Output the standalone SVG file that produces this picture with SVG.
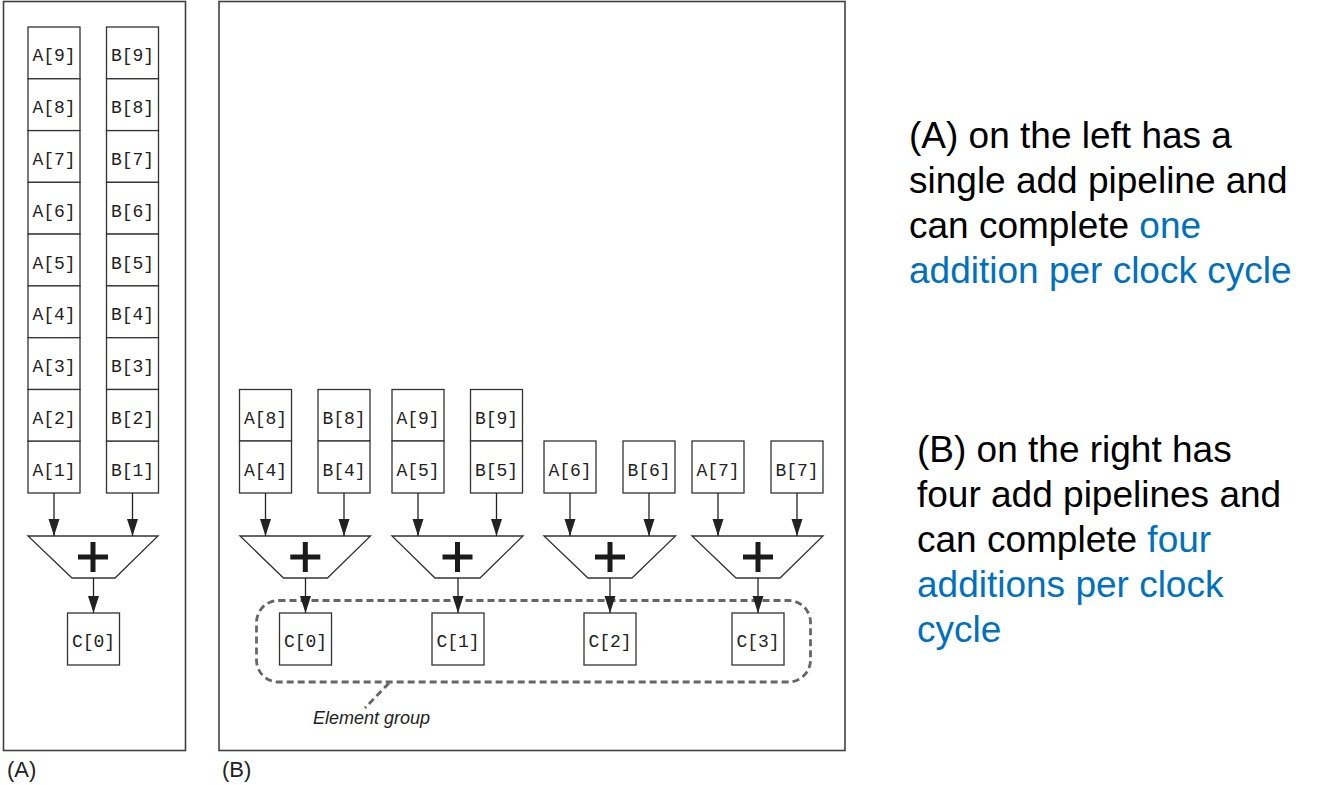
<svg xmlns="http://www.w3.org/2000/svg" width="1323" height="785" viewBox="0 0 1323 785">
<style>
.panel{fill:#fff;stroke:#404040;stroke-width:1.6}
.box{fill:#fff;stroke:#333;stroke-width:1.3}
.lbl{font-family:"Liberation Mono","Courier New",monospace;font-size:18px;fill:#222;text-anchor:middle}
.trap{fill:#fff;stroke:#333;stroke-width:1.3}
.plus{stroke:#1a1a1a;stroke-width:5;fill:none}
.arr{stroke:#222;stroke-width:1.3;fill:none;marker-end:url(#ah)}
.grp{fill:none;stroke:#666;stroke-width:2.8;stroke-dasharray:7 4}
.cap{font-family:"Liberation Sans",Arial,sans-serif;font-size:22px;fill:#222}
.note{font-family:"Liberation Sans",Arial,sans-serif;font-size:37px;fill:#000}
.blue{fill:#0070C0}
</style>
<defs>
<marker id="ah" markerUnits="userSpaceOnUse" markerWidth="17" markerHeight="12" refX="17" refY="6" orient="auto">
<path d="M0,0.5 L17,6 L0,11.5 z" fill="#222"/>
</marker>
<path id="plus" class="plus" d="M-15,0 H15 M0,-15 V15"/>
</defs>
<rect width="1323" height="785" fill="#fff"/>

<g id="panelA">
<rect class="panel" x="3.5" y="1.5" width="182" height="749"/>
<text class="cap" x="7" y="777">(A)</text>
</g>
<g id="panelB">
<rect class="panel" x="219" y="1.5" width="626" height="749"/>
<text class="cap" x="222" y="777">(B)</text>
</g>

<g id="colA">
<rect class="box" x="28" y="27" width="52" height="51.8"/><text class="lbl" x="54" y="61">A[9]</text>
<rect class="box" x="28" y="78.8" width="52" height="51.8"/><text class="lbl" x="54" y="113">A[8]</text>
<rect class="box" x="28" y="130.6" width="52" height="51.8"/><text class="lbl" x="54" y="165">A[7]</text>
<rect class="box" x="28" y="182.3" width="52" height="51.8"/><text class="lbl" x="54" y="216.5">A[6]</text>
<rect class="box" x="28" y="234.1" width="52" height="51.8"/><text class="lbl" x="54" y="268.5">A[5]</text>
<rect class="box" x="28" y="285.9" width="52" height="51.8"/><text class="lbl" x="54" y="320">A[4]</text>
<rect class="box" x="28" y="337.7" width="52" height="51.8"/><text class="lbl" x="54" y="372">A[3]</text>
<rect class="box" x="28" y="389.5" width="52" height="51.8"/><text class="lbl" x="54" y="424">A[2]</text>
<rect class="box" x="28" y="441.2" width="52" height="51.8"/><text class="lbl" x="54" y="475.5">A[1]</text>
</g>
<g id="colB">
<rect class="box" x="106.5" y="27" width="52" height="51.8"/><text class="lbl" x="132.5" y="61">B[9]</text>
<rect class="box" x="106.5" y="78.8" width="52" height="51.8"/><text class="lbl" x="132.5" y="113">B[8]</text>
<rect class="box" x="106.5" y="130.6" width="52" height="51.8"/><text class="lbl" x="132.5" y="165">B[7]</text>
<rect class="box" x="106.5" y="182.3" width="52" height="51.8"/><text class="lbl" x="132.5" y="216.5">B[6]</text>
<rect class="box" x="106.5" y="234.1" width="52" height="51.8"/><text class="lbl" x="132.5" y="268.5">B[5]</text>
<rect class="box" x="106.5" y="285.9" width="52" height="51.8"/><text class="lbl" x="132.5" y="320">B[4]</text>
<rect class="box" x="106.5" y="337.7" width="52" height="51.8"/><text class="lbl" x="132.5" y="372">B[3]</text>
<rect class="box" x="106.5" y="389.5" width="52" height="51.8"/><text class="lbl" x="132.5" y="424">B[2]</text>
<rect class="box" x="106.5" y="441.2" width="52" height="51.8"/><text class="lbl" x="132.5" y="475.5">B[1]</text>
</g>
<g id="adderA">
<polygon class="trap" points="28,536 158,536 115,578 72,578"/>
<use href="#plus" x="93" y="557"/>
</g>
<g id="cA0">
<rect class="box" x="67.5" y="613" width="52" height="52"/><text class="lbl" x="93.5" y="647">C[0]</text>
</g>

<g id="pipe1">
<rect class="box" x="239.5" y="389.5" width="52" height="51.5"/><text class="lbl" x="265.5" y="424">A[8]</text>
<rect class="box" x="239.5" y="441" width="52" height="52"/><text class="lbl" x="265.5" y="475.5">A[4]</text>
<rect class="box" x="318" y="389.5" width="52" height="51.5"/><text class="lbl" x="344" y="424">B[8]</text>
<rect class="box" x="318" y="441" width="52" height="52"/><text class="lbl" x="344" y="475.5">B[4]</text>
<polygon class="trap" points="240,536 370.5,536 327.5,578 283.5,578"/>
<use href="#plus" x="305.3" y="557"/>
</g>
<g id="pipe2">
<rect class="box" x="392" y="389.5" width="52" height="51.5"/><text class="lbl" x="418" y="424">A[9]</text>
<rect class="box" x="392" y="441" width="52" height="52"/><text class="lbl" x="418" y="475.5">A[5]</text>
<rect class="box" x="470.5" y="389.5" width="52" height="51.5"/><text class="lbl" x="496.5" y="424">B[9]</text>
<rect class="box" x="470.5" y="441" width="52" height="52"/><text class="lbl" x="496.5" y="475.5">B[5]</text>
<polygon class="trap" points="392,536 523,536 480,578 435,578"/>
<use href="#plus" x="457.5" y="557"/>
</g>
<g id="pipe3">
<rect class="box" x="544" y="441" width="52" height="52"/><text class="lbl" x="570" y="475.5">A[6]</text>
<rect class="box" x="623" y="441" width="52" height="52"/><text class="lbl" x="649" y="475.5">B[6]</text>
<polygon class="trap" points="544,536 675.5,536 632,578 588,578"/>
<use href="#plus" x="610" y="557"/>
</g>
<g id="pipe4">
<rect class="box" x="692" y="441" width="52" height="52"/><text class="lbl" x="718" y="475.5">A[7]</text>
<rect class="box" x="771" y="441" width="52" height="52"/><text class="lbl" x="797" y="475.5">B[7]</text>
<polygon class="trap" points="692,536 823,536 780,578 736,578"/>
<use href="#plus" x="758" y="557"/>
</g>

<g id="elementGroup">
<rect class="grp" x="256.5" y="600.5" width="554" height="81.5" rx="22"/>
<line class="grp" x1="389" y1="683" x2="365" y2="708"/>
<text x="313" y="724" font-family="Liberation Sans, Arial, sans-serif" font-size="18" font-style="italic" fill="#222">Element group</text>
</g>

<g id="outputs">
<rect class="box" x="279.5" y="613" width="52" height="52"/><text class="lbl" x="305.5" y="647">C[0]</text>
<rect class="box" x="432" y="613" width="52" height="52"/><text class="lbl" x="458" y="647">C[1]</text>
<rect class="box" x="584" y="613" width="52" height="52"/><text class="lbl" x="610" y="647">C[2]</text>
<rect class="box" x="732" y="613" width="52" height="52"/><text class="lbl" x="758" y="647">C[3]</text>
</g>

<g id="connectors">
<line class="arr" x1="54" y1="493" x2="54" y2="536"/>
<line class="arr" x1="132.5" y1="493" x2="132.5" y2="536"/>
<line class="arr" x1="93.5" y1="578" x2="93.5" y2="613"/>
<line class="arr" x1="265.5" y1="493" x2="265.5" y2="536"/>
<line class="arr" x1="344" y1="493" x2="344" y2="536"/>
<line class="arr" x1="418" y1="493" x2="418" y2="536"/>
<line class="arr" x1="496.5" y1="493" x2="496.5" y2="536"/>
<line class="arr" x1="570" y1="493" x2="570" y2="536"/>
<line class="arr" x1="649" y1="493" x2="649" y2="536"/>
<line class="arr" x1="718" y1="493" x2="718" y2="536"/>
<line class="arr" x1="797" y1="493" x2="797" y2="536"/>
<line class="arr" x1="305.5" y1="578" x2="305.5" y2="613"/>
<line class="arr" x1="458" y1="578" x2="458" y2="613"/>
<line class="arr" x1="610" y1="578" x2="610" y2="613"/>
<line class="arr" x1="758" y1="578" x2="758" y2="613"/>
</g>

<g id="noteA">
<text class="note" x="909" y="148">(A) on the left has a</text>
<text class="note" x="909" y="193">single add pipeline and</text>
<text class="note" x="909" y="238">can complete <tspan class="blue">one</tspan></text>
<text class="note blue" x="909" y="283">addition per clock cycle</text>
</g>
<g id="noteB">
<text class="note" x="917" y="462">(B) on the right has</text>
<text class="note" x="917" y="507">four add pipelines and</text>
<text class="note" x="917" y="552">can complete <tspan class="blue">four</tspan></text>
<text class="note blue" x="917" y="597">additions per clock</text>
<text class="note blue" x="917" y="642">cycle</text>
</g>
</svg>
